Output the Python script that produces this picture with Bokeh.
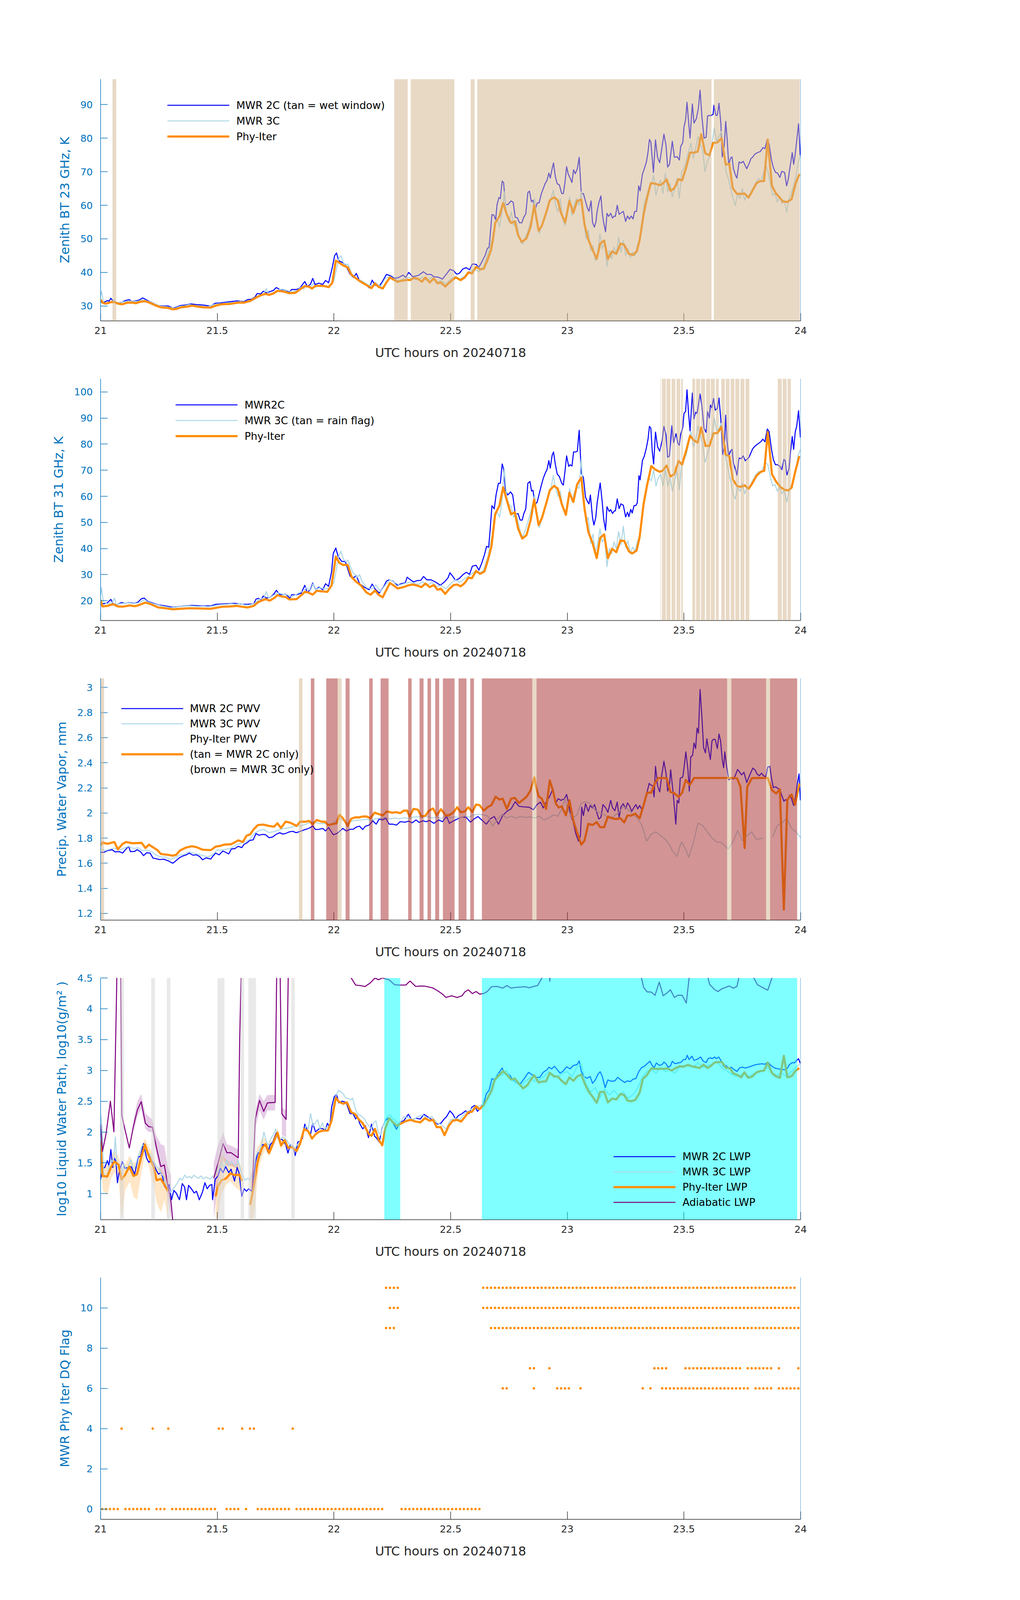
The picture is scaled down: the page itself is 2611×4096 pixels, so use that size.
import math
from bokeh.plotting import figure
from bokeh.models import Range1d, FixedTicker, BoxAnnotation, Span, Legend, LegendItem, Spacer
from bokeh.layouts import column
from bokeh.embed import file_html
from bokeh.resources import INLINE

NAN = float("nan")

X_TICKS = [21, 21.5, 22, 22.5, 23, 23.5, 24]
X_TICK_LABELS = ["21", "21.5", "22", "22.5", "23", "23.5", "24"]

# ---------------- Panel 1 : 23 GHz BT ----------------
BT23_2C = [(21.000,31.1),(21.015,31.1),(21.029,31.6),(21.036,31.4),(21.044,32.3),(21.054,31.4),(21.074,30.9),(21.095,31.2),(21.105,31.6),(21.123,31.9),(21.134,31.3),(21.151,31.5),(21.166,31.8),(21.180,32.4),(21.192,32.0),(21.207,31.4),(21.227,30.8),(21.248,30.1),(21.268,30.0),(21.289,30.0),(21.309,29.4),(21.324,29.6),(21.340,30.1),(21.365,30.3),(21.386,30.6),(21.411,30.4),(21.437,30.3),(21.457,30.1),(21.472,30.0),(21.491,30.8),(21.513,30.9),(21.534,31.1),(21.559,31.3),(21.584,31.5),(21.600,31.4),(21.615,31.3),(21.630,31.9),(21.646,32.0),(21.661,32.6),(21.671,33.7),(21.687,33.6),(21.697,34.4),(21.712,33.9),(21.727,34.3),(21.740,34.6),(21.753,35.5),(21.768,34.9),(21.789,34.8),(21.809,34.2),(21.819,34.9),(21.840,34.9),(21.855,35.4),(21.875,37.3),(21.885,35.9),(21.899,36.4),(21.909,38.2),(21.919,36.4),(21.936,36.8),(21.952,36.4),(21.964,37.6),(21.977,36.9),(21.993,41.5),(22.003,45.0),(22.011,45.8),(22.020,43.5),(22.036,43.0),(22.049,42.3),(22.069,39.5),(22.084,38.5),(22.096,39.7),(22.110,37.4),(22.130,36.9),(22.151,35.4),(22.164,37.7),(22.176,36.2),(22.194,35.9),(22.207,37.2),(22.225,39.4),(22.242,39.0),(22.260,38.2),(22.278,38.5),(22.296,39.2),(22.308,38.5),(22.320,40.0),(22.338,38.7),(22.362,39.1),(22.384,40.2),(22.398,39.4),(22.416,39.4),(22.428,38.7),(22.447,38.6),(22.465,38.0),(22.483,39.6),(22.497,40.9),(22.513,40.5),(22.525,39.5),(22.537,39.7),(22.552,41.0),(22.567,41.4),(22.581,40.8),(22.593,42.5),(22.609,42.4),(22.621,41.5),(22.635,43.3),(22.648,45.1),(22.657,47.1),(22.665,47.5),(22.677,57.2),(22.685,57.1),(22.693,55.7),(22.699,60.2),(22.707,62.3),(22.713,62.0),(22.721,67.2),(22.727,66.8),(22.735,60.2),(22.745,60.2),(22.759,61.3),(22.768,60.9),(22.777,56.4),(22.786,56.3),(22.795,54.8),(22.805,54.8),(22.813,56.4),(22.822,57.4),(22.831,63.8),(22.838,64.2),(22.846,61.1),(22.853,61.5),(22.861,58.3),(22.871,60.7),(22.879,60.7),(22.889,63.5),(22.897,65.0),(22.906,66.6),(22.913,67.4),(22.921,69.6),(22.927,68.1),(22.935,70.9),(22.941,72.6),(22.949,68.4),(22.957,66.4),(22.966,66.1),(22.976,63.5),(22.983,63.5),(22.990,66.8),(22.997,71.5),(23.004,69.3),(23.012,68.1),(23.020,66.8),(23.027,70.6),(23.034,69.4),(23.043,70.9),(23.051,74.3),(23.060,63.5),(23.069,63.5),(23.078,61.2),(23.086,59.2),(23.093,58.2),(23.102,61.3),(23.108,54.9),(23.116,53.5),(23.123,55.2),(23.128,58.3),(23.135,60.7),(23.144,62.8),(23.150,57.7),(23.156,54.7),(23.164,52.1),(23.170,57.6),(23.177,56.7),(23.186,57.6),(23.194,56.2),(23.201,56.8),(23.206,56.7),(23.214,60.0),(23.222,57.3),(23.230,57.7),(23.240,58.2),(23.250,55.2),(23.258,56.8),(23.266,55.9),(23.274,56.8),(23.282,55.9),(23.288,58.1),(23.297,58.2),(23.306,65.8),(23.312,64.3),(23.322,69.3),(23.330,70.9),(23.339,72.9),(23.346,75.9),(23.352,79.6),(23.358,78.9),(23.369,69.8),(23.378,79.5),(23.387,74.2),(23.396,72.7),(23.406,77.4),(23.414,81.2),(23.423,77.9),(23.430,71.4),(23.438,72.2),(23.450,79.1),(23.459,74.3),(23.471,74.5),(23.480,73.5),(23.486,77.5),(23.495,78.7),(23.500,83.3),(23.507,85.5),(23.513,90.7),(23.519,85.5),(23.526,80.0),(23.536,90.2),(23.543,84.5),(23.553,85.8),(23.562,89.0),(23.569,94.3),(23.577,86.3),(23.586,80.0),(23.595,80.3),(23.601,86.6),(23.609,86.8),(23.615,86.7),(23.625,87.1),(23.628,89.8),(23.637,86.8),(23.643,86.8),(23.650,90.4),(23.658,84.5),(23.664,74.4),(23.673,78.0),(23.679,85.0),(23.685,79.7),(23.692,71.9),(23.699,74.0),(23.706,74.4),(23.712,70.9),(23.721,68.9),(23.727,68.1),(23.736,72.9),(23.745,72.6),(23.754,73.1),(23.762,71.9),(23.769,70.9),(23.779,72.4),(23.787,73.9),(23.795,74.4),(23.803,75.2),(23.815,75.7),(23.827,76.0),(23.839,77.2),(23.847,76.9),(23.857,79.7),(23.865,78.2),(23.875,73.5),(23.883,71.3),(23.892,69.8),(23.901,69.6),(23.911,68.3),(23.919,70.1),(23.931,69.8),(23.940,65.8),(23.947,67.8),(23.955,71.6),(23.964,75.7),(23.970,72.2),(23.976,74.9),(23.983,79.2),(23.991,84.3),(23.999,74.4)]

BT23_3C = [(21.000,33.0),(21.004,34.4),(21.012,31.0),(21.02,30.7),(21.04,31.0),(21.06,31.9),(21.066,30.6),(21.08,31.1),(21.10,31.2),(21.12,31.5),(21.14,31.3),(21.16,31.4),(21.18,31.9),(21.20,31.5),(21.22,31.0),(21.24,30.4),(21.26,29.9),(21.28,29.8),(21.30,29.5),(21.32,29.3),(21.34,29.9),(21.36,30.0),(21.38,30.4),(21.40,30.2),(21.42,30.0),(21.44,29.9),(21.46,29.8),(21.48,30.3),(21.50,30.6),(21.52,30.7),(21.54,30.9),(21.56,31.0),(21.58,31.2),(21.60,31.3),(21.62,31.1),(21.64,31.3),(21.66,32.0),(21.68,33.0),(21.70,33.6),(21.71,35.2),(21.72,33.5),(21.74,34.0),(21.76,34.8),(21.78,35.0),(21.80,34.6),(21.82,34.2),(21.84,34.5),(21.86,35.6),(21.87,35.0),(21.88,36.0),(21.90,35.5),(21.91,36.7),(21.92,35.6),(21.94,36.2),(21.96,35.8),(21.98,35.8),(22.00,37.5),(22.02,44.0),(22.03,45.0),(22.04,43.0),(22.05,42.0),(22.06,42.5),(22.08,39.0),(22.10,38.0),(22.12,37.5),(22.14,36.5),(22.16,36.0),(22.18,36.8),(22.20,35.8),(22.22,38.2),(22.24,38.8),(22.26,38.0),(22.28,37.5),(22.30,38.2),(22.32,38.5),(22.34,38.0),(22.36,37.8),(22.38,38.6),(22.40,37.5),(22.42,38.6),(22.44,37.2),(22.46,37.5),(22.48,36.5),(22.50,38.0),(22.52,38.8),(22.54,38.0),(22.56,39.0),(22.58,40.2),(22.60,41.0),(22.62,40.2),(22.64,41.5),(22.66,45.5),(22.68,50.5),(22.69,55.0),(22.70,56.0),(22.71,53.5),(22.72,58.0),(22.73,64.0),(22.74,57.0),(22.75,55.0),(22.76,58.0),(22.77,54.0),(22.78,55.5),(22.79,52.0),(22.80,49.0),(22.81,48.5),(22.82,50.5),(22.83,52.0),(22.84,54.5),(22.85,57.0),(22.86,62.0),(22.87,55.0),(22.88,51.5),(22.89,54.0),(22.90,56.0),(22.91,57.5),(22.92,60.5),(22.93,62.0),(22.94,64.5),(22.95,60.0),(22.96,58.0),(22.97,62.0),(22.98,56.0),(22.99,54.0),(23.00,58.0),(23.01,62.5),(23.02,57.0),(23.03,60.5),(23.04,62.0),(23.05,60.0),(23.06,64.0),(23.07,56.0),(23.08,50.0),(23.09,52.5),(23.10,46.5),(23.11,48.0),(23.12,43.5),(23.13,46.0),(23.14,51.5),(23.15,47.0),(23.16,49.0),(23.17,41.8),(23.18,46.5),(23.19,44.0),(23.20,47.5),(23.21,45.5),(23.22,50.5),(23.23,46.0),(23.24,49.5),(23.25,45.0),(23.26,47.0),(23.27,44.5),(23.28,46.0),(23.29,45.0),(23.30,48.0),(23.31,50.0),(23.32,55.0),(23.33,61.0),(23.34,62.5),(23.35,65.5),(23.36,66.0),(23.37,69.0),(23.38,63.0),(23.39,66.0),(23.40,67.5),(23.41,63.5),(23.42,69.5),(23.43,64.0),(23.44,66.5),(23.45,62.5),(23.46,65.0),(23.47,68.0),(23.48,62.0),(23.49,70.0),(23.50,71.0),(23.51,73.5),(23.52,76.0),(23.53,78.5),(23.54,74.0),(23.55,77.0),(23.56,80.5),(23.57,78.0),(23.58,76.5),(23.59,70.0),(23.60,73.0),(23.61,74.5),(23.62,78.5),(23.63,83.0),(23.64,79.0),(23.65,80.5),(23.66,82.0),(23.67,76.5),(23.68,70.0),(23.69,68.0),(23.70,65.0),(23.71,62.0),(23.72,60.0),(23.73,63.5),(23.74,62.0),(23.75,65.0),(23.76,61.5),(23.77,63.0),(23.78,62.5),(23.79,64.5),(23.80,65.5),(23.81,67.0),(23.82,68.0),(23.83,67.0),(23.84,69.5),(23.85,72.0),(23.86,70.0),(23.87,66.5),(23.88,63.0),(23.89,63.5),(23.90,61.0),(23.91,62.5),(23.92,60.5),(23.93,61.5),(23.94,58.0),(23.95,62.0),(23.96,63.5),(23.97,66.0),(23.98,68.5),(23.99,73.0),(24.00,75.0)]

BT23_PI = [(21.000,31.9),(21.010,30.9),(21.023,30.7),(21.049,31.2),(21.062,31.1),(21.074,30.7),(21.093,30.5),(21.115,31.0),(21.136,31.0),(21.151,30.8),(21.171,31.3),(21.192,31.4),(21.212,30.9),(21.238,30.1),(21.258,29.6),(21.289,29.4),(21.309,29.0),(21.324,29.1),(21.345,29.6),(21.370,29.8),(21.393,30.1),(21.416,29.8),(21.442,29.6),(21.472,29.5),(21.493,30.1),(21.518,30.5),(21.554,30.6),(21.590,31.0),(21.615,31.0),(21.641,31.5),(21.666,32.5),(21.687,33.2),(21.707,33.6),(21.722,33.3),(21.740,33.7),(21.758,34.5),(21.784,34.3),(21.809,33.8),(21.834,33.9),(21.860,35.2),(21.875,35.9),(21.891,35.8),(21.906,35.2),(21.921,36.0),(21.947,36.0),(21.962,35.9),(21.977,35.6),(21.993,36.9),(22.008,43.5),(22.023,42.9),(22.039,42.1),(22.059,41.5),(22.074,39.4),(22.095,38.2),(22.115,37.2),(22.135,36.4),(22.161,35.3),(22.176,36.7),(22.191,35.7),(22.209,35.2),(22.225,37.0),(22.240,38.5),(22.272,37.2),(22.290,37.5),(22.314,37.8),(22.326,37.7),(22.344,38.4),(22.362,38.0),(22.377,37.2),(22.392,38.5),(22.410,37.0),(22.428,38.2),(22.444,36.7),(22.458,37.0),(22.477,35.8),(22.492,36.8),(22.507,37.7),(22.522,38.5),(22.543,37.7),(22.561,38.5),(22.576,40.0),(22.591,39.7),(22.609,41.6),(22.627,40.9),(22.642,41.1),(22.657,43.5),(22.673,46.6),(22.681,49.6),(22.691,54.7),(22.709,56.7),(22.725,60.7),(22.741,57.2),(22.759,54.7),(22.775,55.2),(22.789,51.1),(22.805,49.1),(22.825,50.1),(22.843,53.6),(22.858,60.0),(22.877,52.4),(22.891,53.9),(22.909,57.7),(22.925,61.5),(22.943,62.4),(22.959,61.5),(22.973,57.7),(22.991,54.9),(23.009,61.3),(23.026,57.7),(23.042,61.3),(23.060,61.7),(23.074,54.2),(23.090,49.8),(23.108,46.8),(23.126,44.0),(23.141,48.6),(23.158,49.5),(23.174,44.0),(23.192,46.3),(23.210,45.5),(23.228,48.6),(23.244,48.2),(23.264,45.5),(23.282,45.2),(23.298,46.3),(23.310,49.6),(23.327,57.2),(23.342,62.3),(23.358,66.6),(23.378,66.4),(23.396,66.0),(23.408,66.4),(23.426,67.7),(23.442,64.3),(23.459,65.1),(23.477,67.8),(23.492,67.4),(23.510,71.4),(23.526,75.7),(23.543,75.7),(23.559,76.0),(23.574,81.2),(23.591,75.5),(23.609,74.9),(23.625,78.6),(23.643,78.7),(23.661,80.0),(23.679,72.1),(23.694,72.4),(23.709,65.1),(23.727,63.4),(23.745,63.4),(23.760,63.5),(23.777,62.3),(23.793,64.3),(23.811,66.6),(23.827,67.2),(23.843,67.2),(23.859,79.6),(23.877,65.8),(23.893,63.7),(23.910,62.3),(23.925,61.1),(23.943,61.0),(23.961,61.8),(23.979,66.6),(23.995,69.3)]

WET_WINDOW = [(21.051,21.067),(22.258,22.316),(22.329,22.516),(22.586,22.603),(22.614,23.618),(23.628,23.996)]

# ---------------- Panel 2 : 31 GHz BT ----------------
BT31_2C = [(21.000,19.0),(21.013,18.8),(21.029,19.2),(21.044,20.5),(21.054,18.8),(21.069,18.5),(21.090,19.3),(21.105,19.0),(21.120,19.3),(21.146,19.0),(21.161,19.5),(21.174,20.7),(21.187,21.0),(21.202,19.7),(21.227,19.0),(21.248,18.4),(21.278,18.0),(21.309,17.5),(21.350,17.9),(21.391,18.2),(21.432,18.0),(21.472,18.0),(21.493,18.6),(21.534,18.8),(21.574,19.0),(21.605,18.7),(21.625,18.6),(21.656,18.8),(21.666,20.6),(21.677,20.9),(21.687,20.3),(21.697,21.8),(21.712,21.0),(21.727,21.3),(21.743,22.6),(21.753,24.0),(21.768,22.3),(21.793,22.5),(21.811,21.0),(21.819,22.3),(21.840,22.3),(21.860,22.9),(21.875,25.9),(21.885,23.2),(21.899,24.2),(21.909,26.8),(21.921,24.2),(21.936,25.2),(21.952,24.2),(21.964,26.5),(21.977,25.5),(21.990,31.1),(21.997,38.1),(22.008,40.2),(22.018,36.9),(22.033,35.1),(22.049,35.0),(22.069,29.4),(22.084,28.8),(22.096,29.6),(22.110,26.5),(22.130,25.2),(22.151,24.2),(22.164,26.4),(22.176,24.5),(22.194,22.9),(22.212,25.2),(22.225,27.5),(22.237,28.0),(22.253,27.5),(22.272,25.9),(22.290,26.6),(22.305,26.8),(22.314,29.0),(22.326,28.1),(22.341,27.2),(22.356,27.7),(22.372,27.8),(22.384,29.3),(22.398,28.0),(22.416,28.0),(22.434,27.2),(22.456,25.9),(22.477,27.5),(22.489,28.8),(22.497,30.7),(22.507,29.6),(22.521,27.8),(22.537,28.5),(22.552,29.9),(22.567,30.9),(22.581,30.1),(22.593,33.2),(22.609,33.6),(22.621,31.7),(22.633,34.3),(22.645,37.6),(22.654,40.8),(22.663,40.5),(22.669,46.7),(22.677,56.4),(22.687,55.2),(22.695,60.7),(22.705,65.0),(22.713,65.0),(22.721,72.4),(22.727,70.5),(22.735,62.3),(22.745,60.5),(22.757,61.7),(22.766,60.5),(22.777,53.2),(22.789,53.4),(22.798,50.9),(22.807,50.9),(22.813,53.2),(22.822,55.2),(22.831,65.0),(22.840,65.7),(22.847,62.0),(22.853,62.3),(22.861,56.8),(22.871,57.8),(22.879,60.7),(22.889,64.3),(22.897,66.9),(22.906,69.0),(22.913,70.2),(22.921,73.7),(22.927,70.8),(22.935,75.7),(22.941,77.0),(22.949,72.1),(22.957,68.5),(22.966,67.6),(22.976,65.0),(22.983,64.3),(22.990,69.5),(22.997,75.5),(23.006,71.5),(23.012,72.1),(23.020,71.6),(23.027,77.0),(23.036,77.0),(23.043,77.3),(23.051,85.3),(23.060,68.9),(23.069,67.2),(23.078,59.7),(23.086,58.1),(23.093,57.1),(23.099,60.5),(23.108,51.9),(23.114,49.0),(23.122,51.9),(23.128,57.5),(23.135,61.7),(23.141,65.1),(23.150,57.5),(23.156,51.2),(23.164,47.0),(23.170,56.0),(23.180,54.2),(23.186,54.9),(23.194,53.4),(23.201,54.4),(23.206,54.4),(23.214,59.0),(23.222,55.3),(23.230,57.1),(23.240,56.6),(23.250,52.1),(23.258,53.9),(23.264,52.2),(23.272,55.0),(23.278,53.6),(23.286,56.4),(23.294,56.5),(23.300,57.5),(23.307,67.9),(23.312,66.3),(23.322,73.7),(23.330,75.4),(23.339,78.6),(23.346,81.9),(23.352,86.8),(23.358,86.1),(23.364,77.3),(23.370,72.4),(23.378,84.6),(23.387,79.0),(23.396,77.3),(23.406,81.2),(23.414,86.8),(23.423,83.5),(23.430,75.0),(23.438,75.4),(23.448,87.1),(23.456,80.6),(23.466,84.0),(23.474,80.3),(23.480,79.6),(23.486,83.8),(23.495,86.4),(23.500,91.7),(23.507,92.6),(23.513,100.8),(23.519,92.6),(23.526,85.1),(23.536,99.6),(23.543,89.7),(23.550,92.2),(23.556,91.8),(23.562,95.0),(23.569,99.2),(23.577,94.3),(23.586,86.1),(23.595,84.5),(23.601,92.4),(23.609,90.0),(23.613,95.0),(23.619,93.9),(23.627,97.5),(23.634,93.0),(23.643,93.7),(23.650,97.7),(23.658,89.4),(23.666,76.0),(23.673,79.0),(23.679,91.1),(23.685,80.6),(23.692,75.4),(23.699,77.3),(23.706,78.0),(23.712,72.8),(23.721,70.2),(23.727,68.1),(23.736,74.7),(23.745,74.4),(23.754,75.5),(23.763,73.6),(23.769,74.1),(23.779,75.0),(23.787,76.7),(23.795,78.3),(23.805,79.3),(23.817,80.1),(23.829,80.9),(23.838,81.9),(23.847,80.9),(23.857,85.8),(23.865,84.8),(23.875,78.0),(23.883,74.1),(23.892,72.1),(23.901,72.1),(23.911,71.5),(23.919,70.2),(23.928,74.1),(23.934,73.7),(23.941,68.2),(23.950,70.5),(23.957,77.3),(23.964,82.9),(23.970,78.0),(23.977,84.8),(23.983,86.8),(23.991,92.8),(23.999,82.5)]

BT31_3C = [(21.000,22.0),(21.004,25.0),(21.012,19.5),(21.03,18.8),(21.05,19.3),(21.06,21.0),(21.066,18.5),(21.08,18.8),(21.10,19.0),(21.12,19.2),(21.14,18.9),(21.16,19.1),(21.18,20.0),(21.19,20.4),(21.20,19.6),(21.22,19.0),(21.24,18.5),(21.26,18.0),(21.28,17.7),(21.30,17.3),(21.32,17.5),(21.34,17.8),(21.36,17.9),(21.38,18.0),(21.40,17.9),(21.42,17.8),(21.44,17.9),(21.46,17.7),(21.48,17.9),(21.50,18.3),(21.52,18.5),(21.54,18.6),(21.56,18.8),(21.58,18.6),(21.60,18.9),(21.62,18.3),(21.64,18.4),(21.66,19.0),(21.68,20.5),(21.70,21.0),(21.71,23.5),(21.72,21.0),(21.74,22.0),(21.76,23.0),(21.78,22.5),(21.80,22.3),(21.82,21.5),(21.84,22.5),(21.86,23.5),(21.87,23.0),(21.88,25.0),(21.90,24.0),(21.91,26.5),(21.92,24.2),(21.94,25.0),(21.96,24.5),(21.98,24.8),(22.00,27.0),(22.02,37.0),(22.03,39.0),(22.04,36.0),(22.05,35.0),(22.06,35.5),(22.08,31.0),(22.10,29.0),(22.11,30.0),(22.12,27.5),(22.14,25.0),(22.16,24.5),(22.18,26.0),(22.20,23.5),(22.22,26.0),(22.24,28.0),(22.26,27.0),(22.28,26.0),(22.30,26.5),(22.32,27.0),(22.34,26.8),(22.36,26.2),(22.38,27.2),(22.40,26.0),(22.42,27.0),(22.44,25.5),(22.46,25.8),(22.48,24.5),(22.50,26.5),(22.52,28.0),(22.54,27.0),(22.56,28.5),(22.58,29.5),(22.60,31.0),(22.62,30.5),(22.64,31.5),(22.66,37.0),(22.68,46.0),(22.69,52.0),(22.70,54.0),(22.71,52.0),(22.72,58.0),(22.73,70.5),(22.74,60.0),(22.75,57.0),(22.76,56.0),(22.77,52.0),(22.78,53.5),(22.79,50.0),(22.80,46.0),(22.81,44.5),(22.82,47.0),(22.83,50.0),(22.84,53.0),(22.85,56.5),(22.86,60.5),(22.87,52.0),(22.88,48.0),(22.89,51.0),(22.90,53.5),(22.91,57.5),(22.92,61.0),(22.93,63.0),(22.94,68.0),(22.95,63.0),(22.96,60.0),(22.97,62.0),(22.98,56.0),(22.99,53.0),(23.00,57.5),(23.01,63.0),(23.02,58.0),(23.03,61.5),(23.04,64.0),(23.05,63.0),(23.06,74.5),(23.07,58.0),(23.08,50.0),(23.09,52.0),(23.10,42.0),(23.11,45.5),(23.12,38.5),(23.13,42.0),(23.14,47.5),(23.15,42.5),(23.16,44.0),(23.17,33.0),(23.18,40.0),(23.19,38.0),(23.20,42.5),(23.21,40.0),(23.22,46.5),(23.23,41.5),(23.24,48.5),(23.25,40.5),(23.26,43.0),(23.27,38.0),(23.28,40.5),(23.29,39.0),(23.30,42.5),(23.31,45.0),(23.32,52.0),(23.33,60.0),(23.34,63.0),(23.35,67.0),(23.36,66.0),(23.37,70.0),(23.38,64.0),(23.39,67.0),(23.40,68.5),(23.41,64.0),(23.42,70.5),(23.43,64.0),(23.44,67.0),(23.45,62.0),(23.46,66.0),(23.47,69.5),(23.48,62.5),(23.49,72.0),(23.50,74.0),(23.51,76.0),(23.52,80.0),(23.53,85.0),(23.54,79.0),(23.55,82.0),(23.56,87.0),(23.57,83.0),(23.58,80.0),(23.59,73.0),(23.60,76.0),(23.61,79.0),(23.62,84.0),(23.63,90.0),(23.64,85.0),(23.65,86.0),(23.66,88.0),(23.67,81.0),(23.68,74.0),(23.69,70.0),(23.70,66.0),(23.71,61.0),(23.72,59.0),(23.73,63.5),(23.74,62.0),(23.75,65.0),(23.76,61.0),(23.77,63.5),(23.78,63.0),(23.79,65.5),(23.80,67.0),(23.81,68.5),(23.82,69.5),(23.83,69.0),(23.84,71.0),(23.85,73.0),(23.86,72.0),(23.87,67.5),(23.88,64.0),(23.89,64.5),(23.90,62.0),(23.91,63.5),(23.92,61.0),(23.93,62.5),(23.94,57.8),(23.95,62.0),(23.96,64.0),(23.97,67.0),(23.98,70.5),(23.99,76.0),(24.00,78.0)]

BT31_PI = [(21.000,20.3),(21.008,17.8),(21.029,18.0),(21.054,18.7),(21.074,17.8),(21.095,17.7),(21.125,18.2),(21.146,17.9),(21.161,18.2),(21.192,19.3),(21.217,18.6),(21.248,17.4),(21.278,17.1),(21.309,16.7),(21.340,16.9),(21.381,17.1),(21.432,17.0),(21.472,16.9),(21.503,17.4),(21.523,17.7),(21.554,17.8),(21.584,18.0),(21.605,17.7),(21.630,17.4),(21.656,18.0),(21.676,19.5),(21.707,20.6),(21.725,20.0),(21.743,21.0),(21.758,22.1),(21.778,21.6),(21.793,21.4),(21.809,20.5),(21.840,20.6),(21.860,22.1),(21.875,23.4),(21.891,23.1),(21.909,22.3),(21.926,23.8),(21.947,23.6),(21.972,23.4),(21.990,25.9),(22.008,36.9),(22.023,34.5),(22.039,33.7),(22.059,33.7),(22.076,29.0),(22.095,27.3),(22.115,25.9),(22.140,23.1),(22.157,22.3),(22.176,23.9),(22.191,22.3),(22.209,21.3),(22.225,24.2),(22.240,26.8),(22.258,25.7),(22.273,24.7),(22.298,25.2),(22.319,25.9),(22.339,26.2),(22.360,25.7),(22.375,25.2),(22.392,26.6),(22.410,25.2),(22.428,26.0),(22.444,24.2),(22.458,24.6),(22.477,22.6),(22.495,24.6),(22.513,26.0),(22.528,26.2),(22.543,25.5),(22.561,26.8),(22.576,28.8),(22.591,28.6),(22.609,31.4),(22.627,30.3),(22.645,31.2),(22.660,35.6),(22.675,40.8),(22.691,53.2),(22.709,56.4),(22.725,63.5),(22.741,58.4),(22.759,53.1),(22.775,53.9),(22.789,47.7),(22.807,43.8),(22.825,45.1),(22.843,50.9),(22.858,58.8),(22.877,49.0),(22.891,51.6),(22.909,57.1),(22.925,62.3),(22.943,64.0),(22.959,63.0),(22.976,57.1),(22.994,52.9),(23.009,61.4),(23.026,57.8),(23.042,64.6),(23.060,67.2),(23.074,55.2),(23.090,46.4),(23.108,42.2),(23.126,36.3),(23.141,44.1),(23.158,45.4),(23.174,36.3),(23.192,39.9),(23.210,38.6),(23.228,43.1),(23.244,42.9),(23.264,38.9),(23.278,38.1),(23.297,39.2),(23.310,44.4),(23.327,57.1),(23.342,64.3),(23.360,71.6),(23.378,70.2),(23.396,69.4),(23.408,69.8),(23.426,71.8),(23.442,67.6),(23.459,68.5),(23.477,73.6),(23.492,72.1),(23.510,77.7),(23.526,83.2),(23.543,81.4),(23.559,80.6),(23.574,86.4),(23.592,79.3),(23.609,79.3),(23.627,84.2),(23.643,84.2),(23.661,86.6),(23.679,76.0),(23.694,75.4),(23.709,66.6),(23.727,64.0),(23.745,63.6),(23.760,64.2),(23.777,62.9),(23.793,65.0),(23.811,67.9),(23.829,69.4),(23.844,69.8),(23.859,84.6),(23.877,68.5),(23.895,65.6),(23.913,63.6),(23.931,62.5),(23.947,62.3),(23.961,63.3),(23.977,69.5),(23.994,75.4)]

RAIN_FLAG = [(23.398,23.400),(23.405,23.422),(23.425,23.442),(23.447,23.463),(23.468,23.484),(23.488,23.495),(23.536,23.548),(23.552,23.569),(23.573,23.590),(23.595,23.612),(23.615,23.632),(23.637,23.649),(23.660,23.675),(23.679,23.695),(23.700,23.716),(23.720,23.737),(23.742,23.759),(23.764,23.780),(23.902,23.919),(23.923,23.940),(23.944,23.958)]

# ---------------- Panel 3 : PWV ----------------
PWV_2C = [(21.000,1.687),(21.015,1.687),(21.029,1.700),(21.049,1.708),(21.062,1.690),(21.080,1.692),(21.095,1.681),(21.105,1.705),(21.120,1.735),(21.128,1.692),(21.146,1.694),(21.156,1.708),(21.171,1.692),(21.184,1.660),(21.197,1.683),(21.212,1.681),(21.225,1.640),(21.238,1.636),(21.253,1.629),(21.270,1.632),(21.289,1.620),(21.309,1.600),(21.319,1.613),(21.335,1.640),(21.350,1.656),(21.368,1.667),(21.380,1.681),(21.396,1.664),(21.411,1.667),(21.424,1.654),(21.437,1.627),(21.452,1.643),(21.472,1.633),(21.481,1.656),(21.493,1.681),(21.508,1.667),(21.524,1.697),(21.536,1.687),(21.549,1.674),(21.561,1.715),(21.574,1.715),(21.590,1.735),(21.605,1.724),(21.615,1.751),(21.627,1.762),(21.640,1.782),(21.654,1.786),(21.666,1.837),(21.678,1.823),(21.695,1.830),(21.707,1.827),(21.722,1.803),(21.737,1.809),(21.752,1.830),(21.768,1.843),(21.780,1.832),(21.793,1.837),(21.809,1.850),(21.824,1.854),(21.838,1.843),(21.850,1.850),(21.870,1.864),(21.885,1.873),(21.899,1.884),(21.909,1.897),(21.921,1.868),(21.936,1.870),(21.952,1.877),(21.964,1.857),(21.977,1.884),(21.997,1.827),(22.013,1.837),(22.028,1.860),(22.038,1.877),(22.053,1.857),(22.069,1.870),(22.082,1.870),(22.095,1.887),(22.110,1.895),(22.123,1.868),(22.135,1.895),(22.151,1.904),(22.166,1.938),(22.181,1.911),(22.194,1.952),(22.207,1.945),(22.222,1.958),(22.237,1.911),(22.253,1.911),(22.268,1.904),(22.284,1.931),(22.305,1.927),(22.320,1.935),(22.335,1.922),(22.352,1.945),(22.365,1.925),(22.381,1.938),(22.396,1.931),(22.410,1.941),(22.428,1.918),(22.449,1.945),(22.465,1.931),(22.483,1.972),(22.495,1.918),(22.513,1.938),(22.531,1.954),(22.549,1.968),(22.567,1.965),(22.585,1.927),(22.600,1.952),(22.617,1.972),(22.633,1.945),(22.653,1.911),(22.669,1.952),(22.687,1.972),(22.705,1.911),(22.723,1.979),(22.741,2.013),(22.759,2.033),(22.777,2.090),(22.793,2.053),(22.813,2.049),(22.837,2.046),(22.855,2.026),(22.870,2.067),(22.885,2.087),(22.897,2.040),(22.909,2.087),(22.925,2.134),(22.939,2.195),(22.949,2.074),(22.961,2.114),(22.973,2.101),(22.988,2.114),(22.997,2.148),(23.006,2.074),(23.014,1.979),(23.024,1.938),(23.036,1.837),(23.048,1.776),(23.056,1.816),(23.062,2.046),(23.069,1.979),(23.078,2.074),(23.090,2.013),(23.098,2.060),(23.108,2.040),(23.117,2.067),(23.126,2.006),(23.135,1.952),(23.144,1.965),(23.153,2.067),(23.165,2.040),(23.174,2.006),(23.186,2.101),(23.194,2.040),(23.204,2.019),(23.214,2.087),(23.222,1.965),(23.230,2.049),(23.240,2.074),(23.250,2.033),(23.258,2.080),(23.266,2.060),(23.276,2.013),(23.286,2.046),(23.294,2.067),(23.302,2.033),(23.310,2.060),(23.318,2.033),(23.327,2.060),(23.336,2.114),(23.342,2.168),(23.351,2.236),(23.358,2.223),(23.366,2.216),(23.372,2.128),(23.378,2.372),(23.387,2.216),(23.396,2.168),(23.405,2.304),(23.414,2.412),(23.423,2.317),(23.430,2.175),(23.438,2.223),(23.443,2.345),(23.454,2.155),(23.465,1.911),(23.471,2.101),(23.478,2.080),(23.484,2.277),(23.495,2.288),(23.501,2.372),(23.508,2.487),(23.517,2.345),(23.523,2.175),(23.529,2.446),(23.537,2.460),(23.543,2.558),(23.550,2.514),(23.556,2.676),(23.562,2.636),(23.569,2.984),(23.577,2.764),(23.584,2.521),(23.592,2.480),(23.598,2.591),(23.604,2.521),(23.613,2.426),(23.620,2.574),(23.627,2.588),(23.634,2.585),(23.643,2.514),(23.650,2.629),(23.657,2.575),(23.664,2.426),(23.670,2.361),(23.675,2.487),(23.682,2.385),(23.692,2.263),(23.703,2.277),(23.712,2.270),(23.721,2.304),(23.730,2.347),(23.739,2.324),(23.747,2.304),(23.757,2.324),(23.769,2.243),(23.779,2.290),(23.787,2.324),(23.795,2.358),(23.805,2.342),(23.813,2.311),(23.823,2.297),(23.833,2.317),(23.841,2.297),(23.851,2.290),(23.859,2.365),(23.868,2.372),(23.875,2.277),(23.883,2.202),(23.893,2.209),(23.901,2.198),(23.911,2.185),(23.919,2.141),(23.928,2.094),(23.935,2.107),(23.943,2.094),(23.952,2.141),(23.961,2.114),(23.970,2.060),(23.977,2.114),(23.985,2.223),(23.993,2.311),(23.999,2.101)]

PWV_3C = [(21.000,1.715),(21.02,1.700),(21.04,1.712),(21.06,1.720),(21.08,1.703),(21.10,1.720),(21.12,1.735),(21.14,1.718),(21.16,1.722),(21.18,1.700),(21.20,1.705),(21.22,1.690),(21.24,1.662),(21.26,1.650),(21.28,1.648),(21.30,1.630),(21.32,1.645),(21.34,1.665),(21.36,1.672),(21.38,1.690),(21.40,1.680),(21.42,1.672),(21.44,1.660),(21.46,1.650),(21.48,1.668),(21.50,1.705),(21.52,1.705),(21.54,1.712),(21.56,1.720),(21.58,1.745),(21.60,1.758),(21.62,1.770),(21.64,1.790),(21.66,1.840),(21.68,1.860),(21.70,1.870),(21.72,1.845),(21.74,1.850),(21.76,1.862),(21.78,1.875),(21.80,1.880),(21.82,1.888),(21.84,1.895),(21.86,1.900),(21.88,1.910),(21.90,1.928),(21.92,1.925),(21.94,1.915),(21.96,1.918),(21.98,1.905),(22.00,1.925),(22.02,1.960),(22.04,1.940),(22.06,1.922),(22.08,1.938),(22.10,1.942),(22.12,1.945),(22.14,1.950),(22.16,1.940),(22.18,1.955),(22.20,1.958),(22.22,1.965),(22.24,1.952),(22.26,1.960),(22.28,1.955),(22.30,1.962),(22.32,1.955),(22.34,1.968),(22.36,1.970),(22.38,1.962),(22.40,1.975),(22.42,1.960),(22.44,1.968),(22.46,1.955),(22.48,1.978),(22.50,1.962),(22.52,1.970),(22.54,1.960),(22.56,1.975),(22.58,1.968),(22.60,1.985),(22.62,1.990),(22.64,1.985),(22.66,1.975),(22.68,1.895),(22.70,1.950),(22.72,1.990),(22.74,1.960),(22.76,1.975),(22.78,1.960),(22.80,1.972),(22.82,1.965),(22.84,1.970),(22.86,1.960),(22.88,1.975),(22.90,1.945),(22.92,1.960),(22.94,1.985),(22.96,1.975),(22.98,2.050),(22.99,2.114),(23.00,2.040),(23.02,1.960),(23.04,1.980),(23.06,2.080),(23.08,2.090),(23.10,2.075),(23.12,2.020),(23.14,2.000),(23.16,1.985),(23.18,1.955),(23.20,1.975),(23.22,2.005),(23.24,2.050),(23.26,2.030),(23.28,1.990),(23.30,1.960),(23.32,1.900),(23.34,1.776),(23.36,1.830),(23.38,1.850),(23.40,1.820),(23.42,1.790),(23.44,1.740),(23.45,1.700),(23.47,1.654),(23.48,1.720),(23.49,1.770),(23.51,1.700),(23.52,1.647),(23.54,1.760),(23.56,1.920),(23.58,1.900),(23.60,1.850),(23.62,1.800),(23.64,1.770),(23.66,1.765),(23.68,1.730),(23.69,1.714),(23.71,1.770),(23.73,1.860),(23.75,1.780),(23.77,1.820),(23.79,1.850),(23.81,1.790),(23.84,1.800),None,(23.88,1.810),(23.90,1.900),(23.92,1.920),(23.94,1.960),(23.96,1.880),(23.98,1.850),(24.00,1.803)]

PWV_PI = [(21.000,1.742),(21.008,1.765),(21.029,1.755),(21.059,1.769),(21.074,1.711),(21.095,1.755),(21.110,1.769),(21.136,1.759),(21.176,1.762),(21.192,1.721),(21.207,1.748),(21.227,1.724),(21.243,1.705),(21.258,1.674),(21.289,1.667),(21.309,1.660),(21.324,1.667),(21.340,1.701),(21.365,1.724),(21.391,1.735),(21.411,1.728),(21.437,1.708),(21.472,1.704),(21.493,1.732),(21.513,1.738),(21.529,1.748),(21.559,1.751),(21.590,1.782),(21.610,1.769),(21.625,1.819),(21.641,1.830),(21.656,1.870),(21.674,1.904),(21.697,1.908),(21.722,1.897),(21.743,1.891),(21.758,1.918),(21.773,1.881),(21.793,1.931),(21.814,1.922),(21.840,1.897),(21.855,1.931),(21.880,1.931),(21.893,1.938),(21.909,1.911),(21.926,1.945),(21.947,1.931),(21.962,1.931),(21.974,1.904),(21.993,1.911),(22.011,1.918),(22.023,1.986),(22.039,1.958),(22.059,1.897),(22.074,1.954),(22.090,1.965),(22.107,1.965),(22.123,1.972),(22.140,1.972),(22.156,1.958),(22.174,2.003),(22.191,1.992),(22.209,1.981),(22.227,2.013),(22.248,2.003),(22.268,2.006),(22.284,1.999),(22.299,2.019),(22.314,2.019),(22.324,1.972),(22.341,2.033),(22.360,2.026),(22.375,1.972),(22.392,1.979),(22.408,2.019),(22.425,2.036),(22.440,1.981),(22.459,2.030),(22.480,1.979),(22.497,1.986),(22.513,2.006),(22.528,2.046),(22.543,2.006),(22.561,2.013),(22.576,2.046),(22.593,2.009),(22.609,2.067),(22.624,2.063),(22.642,2.019),(22.660,2.049),(22.675,2.063),(22.693,2.130),(22.709,2.107),(22.723,2.114),(22.741,2.033),(22.759,2.114),(22.775,2.121),(22.793,2.080),(22.807,2.101),(22.825,2.128),(22.841,2.175),(22.849,2.223),(22.859,2.283),(22.867,2.202),(22.877,2.134),(22.891,2.114),(22.909,2.033),(22.925,2.260),(22.939,2.175),(22.951,2.074),(22.963,2.044),(22.976,2.053),(22.994,1.981),(23.009,2.101),(23.026,1.938),(23.042,1.843),(23.060,1.748),(23.074,1.782),(23.090,1.914),(23.108,1.904),(23.126,1.927),(23.141,1.887),(23.158,1.887),(23.174,1.972),(23.192,1.958),(23.210,1.952),(23.228,1.958),(23.244,1.925),(23.258,1.981),(23.274,1.979),(23.291,1.995),(23.310,1.958),(23.327,2.063),(23.342,2.162),(23.360,2.162),(23.375,2.236),(23.390,2.279),(23.408,2.279),(23.426,2.277),(23.442,2.168),(23.459,2.157),(23.477,2.128),(23.492,2.162),(23.508,2.263),(23.525,2.223),(23.543,2.279),(23.685,2.279),(23.721,2.279),(23.727,2.277),(23.742,2.209),(23.760,1.721),(23.771,2.209),(23.791,2.277),(23.807,2.279),(23.859,2.279),(23.877,2.182),(23.895,2.155),(23.911,2.189),(23.928,1.231),(23.943,2.107),(23.961,2.148),(23.976,2.067),(23.995,2.236)]

PWV_2C_ONLY = [(21.000,21.015),(21.850,21.865),(22.016,22.033),(22.850,22.868),(23.685,23.703),(23.852,23.869)]
PWV_3C_ONLY = [(21.901,21.916),(21.967,22.016),(22.050,22.067),(22.151,22.166),(22.200,22.234),(22.318,22.333),(22.367,22.384),(22.401,22.416),(22.434,22.451),(22.467,22.517),(22.534,22.568),(22.584,22.600),(22.634,22.850),(22.868,23.685),(23.703,23.852),(23.869,23.985)]

# ---------------- Panel 4 : log10 LWP ----------------
LWP_2C = [(21.000,1.232),(21.008,1.411),(21.018,1.425),(21.029,1.535),(21.036,1.453),(21.044,1.715),(21.052,1.425),(21.059,1.577),(21.066,1.522),(21.072,1.177),(21.080,1.356),(21.093,1.522),(21.105,1.411),(21.117,1.425),(21.131,1.439),(21.146,1.315),(21.161,1.590),(21.171,1.610),(21.184,1.811),(21.197,1.577),(21.207,1.508),(21.217,1.549),(21.227,1.480),(21.240,1.370),(21.248,1.315),(21.258,1.342),(21.266,1.273),(21.273,1.122),(21.284,1.067),(21.294,1.149),(21.304,0.901),(21.314,1.053),(21.324,1.011),(21.338,0.901),(21.350,1.163),(21.360,1.108),(21.368,0.901),(21.377,1.135),(21.389,1.080),(21.401,1.011),(21.411,1.039),(21.423,0.901),(21.437,1.031),(21.447,1.177),(21.457,1.080),(21.467,1.135),(21.477,1.149),(21.480,0.901),(21.491,1.232),(21.503,1.287),(21.513,1.411),(21.525,1.342),(21.536,1.439),(21.549,1.342),(21.559,1.397),(21.574,1.204),(21.585,1.425),(21.593,1.342),(21.605,0.956),(21.615,1.080),(21.625,1.039),(21.635,1.080),(21.648,1.039),(21.656,1.273),(21.664,1.508),(21.674,1.673),(21.685,1.632),(21.695,1.797),(21.707,1.784),(21.717,1.673),(21.727,1.797),(21.738,1.839),(21.753,1.990),(21.763,1.880),(21.778,1.880),(21.793,1.797),(21.803,1.659),(21.813,1.797),(21.824,1.770),(21.834,1.618),(21.845,1.839),(21.855,1.852),(21.865,1.894),(21.875,2.128),(21.885,2.032),(21.899,1.949),(21.909,2.142),(21.921,2.004),(21.936,2.051),(21.950,2.059),(21.962,2.023),(21.972,2.142),(21.982,2.073),(21.990,2.404),(22.001,2.570),(22.011,2.611),(22.021,2.473),(22.035,2.501),(22.052,2.481),(22.069,2.299),(22.082,2.299),(22.093,2.211),(22.100,2.266),(22.110,2.142),(22.123,2.051),(22.135,2.101),(22.148,1.908),(22.161,2.128),(22.174,1.935),(22.184,1.894),(22.194,1.839),(22.207,2.073),(22.219,2.183),(22.232,2.225),(22.247,2.189),(22.268,2.046),(22.284,2.161),(22.299,2.183),(22.319,2.288),(22.335,2.189),(22.350,2.225),(22.370,2.211),(22.386,2.288),(22.410,2.225),(22.428,2.183),(22.444,2.128),(22.458,2.142),(22.471,2.205),(22.483,2.252),(22.497,2.343),(22.509,2.294),(22.521,2.211),(22.533,2.266),(22.549,2.299),(22.564,2.343),(22.579,2.299),(22.591,2.404),(22.603,2.432),(22.615,2.335),(22.627,2.390),(22.641,2.459),(22.653,2.619),(22.665,2.680),(22.677,2.867),(22.689,2.845),(22.699,2.923),(22.711,2.983),(22.721,3.038),(22.729,2.956),(22.741,2.934),(22.753,2.928),(22.765,2.851),(22.783,2.790),(22.801,2.790),(22.819,2.887),(22.834,2.969),(22.849,2.928),(22.867,2.887),(22.882,2.887),(22.897,2.969),(22.913,3.011),(22.921,3.052),(22.933,3.025),(22.945,3.066),(22.957,3.011),(22.969,2.956),(22.981,2.983),(22.997,3.058),(23.012,3.025),(23.026,3.080),(23.042,3.094),(23.051,3.154),(23.060,2.983),(23.072,2.901),(23.084,2.873),(23.098,2.901),(23.108,2.790),(23.120,2.845),(23.132,2.942),(23.141,2.978),(23.150,2.901),(23.162,2.721),(23.174,2.845),(23.189,2.823),(23.204,2.831),(23.216,2.887),(23.230,2.845),(23.246,2.804),(23.258,2.831),(23.270,2.818),(23.282,2.859),(23.294,2.867),(23.306,2.978),(23.318,3.044),(23.330,3.066),(23.342,3.107),(23.354,3.149),(23.364,3.080),(23.372,3.044),(23.382,3.121),(23.394,3.080),(23.406,3.094),(23.414,3.135),(23.423,3.107),(23.432,3.052),(23.442,3.071),(23.450,3.149),(23.462,3.107),(23.474,3.121),(23.486,3.127),(23.498,3.176),(23.507,3.176),(23.514,3.245),(23.522,3.176),(23.534,3.231),(23.543,3.162),(23.553,3.176),(23.562,3.190),(23.571,3.218),(23.583,3.149),(23.595,3.127),(23.603,3.190),(23.613,3.204),(23.622,3.190),(23.631,3.218),(23.639,3.190),(23.649,3.218),(23.658,3.162),(23.670,3.066),(23.679,3.080),(23.691,3.038),(23.703,3.052),(23.715,3.011),(23.727,2.983),(23.739,3.044),(23.751,3.052),(23.763,3.038),(23.775,3.052),(23.787,3.066),(23.803,3.088),(23.817,3.099),(23.835,3.107),(23.847,3.099),(23.859,3.135),(23.875,3.071),(23.889,3.038),(23.904,3.025),(23.919,3.016),(23.931,3.011),(23.943,3.033),(23.952,3.094),(23.964,3.127),(23.973,3.121),(23.983,3.162),(23.991,3.190),(23.999,3.107)]

LWP_3C = [(21.000,2.29),(21.006,2.10),(21.012,1.35),(21.025,1.25),(21.035,1.42),(21.045,1.55),(21.055,1.50),(21.063,1.92),(21.070,1.45),(21.080,1.38),(21.090,1.30),(21.100,1.48),(21.110,1.38),(21.120,1.45),(21.130,1.55),(21.140,1.40),(21.150,1.45),(21.160,1.60),(21.170,1.70),(21.180,1.80),(21.190,1.75),(21.200,1.62),(21.210,1.65),(21.220,1.55),(21.230,1.50),(21.240,1.45),(21.250,1.40),(21.260,1.32),(21.270,1.28),(21.280,1.15),(21.290,1.10),(21.300,1.02),(21.310,1.08),(21.320,1.12),(21.330,1.18),(21.340,1.25),(21.350,1.22),(21.360,1.30),(21.370,1.26),(21.380,1.28),(21.390,1.25),(21.400,1.30),(21.410,1.27),(21.420,1.25),(21.430,1.29),(21.440,1.24),(21.450,1.27),(21.460,1.25),(21.470,1.24),(21.480,1.28),(21.490,1.30),(21.500,1.38),(21.510,1.45),(21.520,1.50),(21.530,1.42),(21.540,1.55),(21.550,1.45),(21.560,1.52),(21.570,1.48),(21.580,1.45),(21.590,1.55),(21.600,1.35),(21.610,1.28),(21.620,1.22),(21.630,1.25),(21.640,1.22),(21.650,1.30),(21.660,1.55),(21.670,1.65),(21.680,1.70),(21.690,1.80),(21.700,2.00),(21.710,1.85),(21.720,1.78),(21.730,1.90),(21.740,1.95),(21.750,2.05),(21.760,1.92),(21.770,1.88),(21.780,1.92),(21.790,1.90),(21.800,1.85),(21.810,1.80),(21.820,1.78),(21.830,1.72),(21.840,1.78),(21.850,1.82),(21.860,1.90),(21.870,2.00),(21.880,2.10),(21.890,2.05),(21.900,2.30),(21.910,2.10),(21.920,2.15),(21.930,2.20),(21.940,2.05),(21.950,2.15),(21.960,2.05),(21.970,2.08),(21.980,2.05),(21.990,2.25),(22.000,2.50),(22.010,2.60),(22.020,2.68),(22.030,2.65),(22.040,2.62),(22.050,2.55),(22.060,2.55),(22.070,2.52),(22.080,2.55),(22.090,2.40),(22.100,2.30),(22.110,2.28),(22.120,2.25),(22.130,2.22),(22.140,2.15),(22.150,2.10),(22.160,2.05),(22.170,2.15),(22.180,2.18),(22.190,2.00),(22.200,1.95),(22.210,2.10),(22.220,2.20),(22.230,2.25),(22.240,2.28),(22.250,2.22),(22.260,2.20),(22.270,2.15),(22.280,2.12),(22.290,2.20),(22.300,2.25),(22.320,2.23),(22.340,2.20),(22.360,2.25),(22.380,2.28),(22.400,2.22),(22.420,2.25),(22.440,2.15),(22.460,2.12),(22.480,2.05),(22.500,2.20),(22.520,2.22),(22.540,2.20),(22.560,2.30),(22.580,2.35),(22.600,2.40),(22.620,2.42),(22.640,2.45),(22.66,2.55),(22.68,2.80),(22.70,2.95),(22.72,2.92),(22.74,3.00),(22.76,2.85),(22.78,2.80),(22.80,2.75),(22.82,2.82),(22.84,2.88),(22.86,2.82),(22.88,2.85),(22.90,2.90),(22.92,2.98),(22.94,2.93),(22.96,2.90),(22.98,2.95),(23.00,2.98),(23.02,2.90),(23.04,3.05),(23.06,3.10),(23.08,2.78),(23.10,2.65),(23.12,2.72),(23.14,2.55),(23.16,2.70),(23.18,2.60),(23.20,2.68),(23.22,2.58),(23.24,2.65),(23.26,2.55),(23.28,2.60),(23.30,2.70),(23.32,2.88),(23.34,2.98),(23.36,3.02),(23.38,2.95),(23.40,3.05),(23.42,2.98),(23.44,3.02),(23.46,2.95),(23.48,3.05),(23.50,3.08),(23.52,3.10),(23.54,3.05),(23.56,3.12),(23.58,3.05),(23.60,3.08),(23.62,3.10),(23.64,3.15),(23.66,3.05),(23.68,3.00),(23.70,2.95),(23.72,2.90),(23.74,2.92),(23.76,2.95),(23.78,2.90),(23.80,2.95),(23.82,2.98),(23.84,3.00),(23.86,3.05),(23.88,2.95),(23.90,2.92),(23.92,2.95),(23.94,2.90),(23.96,2.98),(23.98,3.05),(24.00,3.12)]

LWP_PI = [(21.000,1.852),(21.008,1.287),(21.029,1.279),(21.044,1.425),(21.059,1.522),(21.077,1.472),(21.090,1.232),(21.105,1.306),(21.123,1.439),(21.141,1.287),(21.156,1.315),(21.174,1.590),(21.190,1.797),(21.202,1.659),(21.217,1.522),(21.227,1.439),(21.240,1.218),(21.258,1.240),(21.273,1.149),(21.289,1.039),None,(21.493,0.956),(21.503,1.122),(21.518,1.218),(21.539,1.251),(21.556,1.328),(21.574,1.301),(21.595,1.306),(21.607,1.204),None,(21.641,0.818),(21.651,1.011),(21.661,1.218),(21.671,1.480),(21.681,1.632),(21.692,1.742),(21.707,1.803),(21.722,1.659),(21.740,1.825),(21.758,1.990),(21.773,1.784),(21.789,1.866),(21.804,1.742),(21.819,1.756),(21.840,1.693),(21.855,1.811),(21.872,2.046),(21.889,2.018),(21.906,1.894),(21.921,1.963),(21.936,2.004),(21.952,2.023),(21.974,2.023),(21.990,2.183),(22.008,2.556),(22.021,2.492),(22.039,2.459),(22.056,2.481),(22.074,2.321),(22.090,2.294),(22.105,2.211),(22.123,2.142),(22.138,2.051),(22.151,1.957),(22.161,1.941),(22.176,2.051),(22.191,1.880),(22.207,1.784),(22.220,2.059),(22.237,2.225),(22.253,2.156),(22.270,2.101),(22.289,2.142),(22.309,2.178),(22.329,2.197),(22.350,2.170),(22.370,2.156),(22.390,2.225),(22.410,2.183),(22.425,2.197),(22.440,2.079),(22.458,2.079),(22.474,1.949),(22.492,2.101),(22.509,2.183),(22.528,2.197),(22.545,2.170),(22.561,2.244),(22.576,2.321),(22.591,2.327),(22.609,2.418),(22.624,2.371),(22.641,2.432),(22.657,2.542),(22.675,2.666),(22.689,2.845),(22.709,2.928),(22.725,2.989),(22.741,2.928),(22.759,2.851),(22.775,2.867),(22.793,2.785),(22.811,2.707),(22.829,2.763),(22.843,2.845),(22.858,2.923),(22.877,2.804),(22.891,2.818),(22.909,2.823),(22.925,2.961),(22.943,2.901),(22.959,2.901),(22.976,2.831),(22.994,2.776),(23.009,2.887),(23.026,2.831),(23.042,2.901),(23.060,2.934),(23.074,2.790),(23.090,2.666),(23.108,2.575),(23.126,2.473),(23.141,2.652),(23.158,2.652),(23.174,2.481),(23.192,2.542),(23.210,2.528),(23.228,2.619),(23.244,2.597),(23.258,2.509),(23.274,2.501),(23.291,2.520),(23.310,2.638),(23.324,2.859),(23.342,2.928),(23.360,3.033),(23.378,3.025),(23.396,3.025),(23.414,3.025),(23.430,3.033),(23.447,2.997),(23.462,3.033),(23.480,3.066),(23.498,3.060),(23.517,3.088),(23.534,3.066),(23.553,3.052),(23.567,3.038),(23.583,3.094),(23.601,3.038),(23.613,3.066),(23.631,3.127),(23.649,3.135),(23.663,3.135),(23.679,3.044),(23.697,3.033),(23.712,2.950),(23.730,2.923),(23.745,2.887),(23.759,2.969),(23.775,2.879),(23.793,2.901),(23.811,2.969),(23.829,2.989),(23.843,2.997),(23.859,3.127),(23.877,2.956),(23.895,2.901),(23.911,2.879),(23.928,3.237),(23.943,2.887),(23.961,2.906),(23.977,2.989),(23.994,3.038)]

LWP_PI_BANDS = [
    ([21.000,21.010,21.030,21.045,21.060,21.078,21.090,21.105,21.125,21.141,21.157,21.175,21.190,21.203,21.218,21.228,21.240,21.258,21.274,21.289],
     [1.55,1.05,0.97,1.25,1.35,1.20,0.58,1.05,1.20,0.95,0.90,1.35,1.62,1.50,1.25,1.15,0.85,0.70,0.90,0.58],
     [2.00,1.45,1.47,1.62,1.70,1.60,1.40,1.48,1.62,1.50,1.52,1.75,1.90,1.78,1.70,1.60,1.45,1.40,1.30,1.25]),
    ([21.493,21.503,21.518,21.539,21.556,21.574,21.595,21.607],
     [0.58,0.62,1.00,1.15,1.20,1.12,1.05,1.00],
     [1.30,1.55,1.65,1.55,1.50,1.48,1.50,1.40]),
    ([21.641,21.651,21.661,21.671,21.681,21.692,21.707,21.722,21.740,21.758,21.773,21.789],
     [0.58,0.58,0.75,1.20,1.45,1.60,1.72,1.60,1.76,1.92,1.72,1.80],
     [1.35,1.35,1.55,1.75,1.80,1.90,1.90,1.74,1.90,2.06,1.86,1.94]),
]

LWP_ADIA = [(21.000,2.128),(21.008,1.687),(21.023,1.963),(21.042,2.500),(21.057,2.004),(21.066,3.783),(21.072,5.0),(21.085,5.0),(21.091,2.266),(21.105,2.032),(21.123,1.742),(21.141,2.101),(21.158,2.363),(21.174,2.492),(21.192,2.142),(21.207,2.087),(21.222,2.079),(21.238,1.770),(21.258,1.439),(21.273,1.466),(21.287,1.163),(21.302,0.860),(21.312,0.45),None,(21.485,1.25),(21.500,1.45),(21.525,1.811),(21.541,1.665),(21.559,1.665),(21.590,1.582),(21.596,3.5),(21.605,5.0),None,(21.650,1.10),(21.663,2.211),(21.681,2.514),(21.699,2.335),(21.715,2.473),(21.748,2.481),(21.756,5.0),(21.768,5.0),(21.777,2.294),(21.795,2.205),(21.800,3.5),(21.806,5.0),(22.000,5.0),(22.074,4.5),(22.093,4.384),(22.115,4.375),(22.133,4.36),(22.156,4.42),(22.176,4.50),(22.191,4.47),(22.207,4.50),(22.236,4.47),(22.260,4.39),(22.278,4.384),(22.308,4.384),(22.326,4.45),(22.350,4.362),(22.368,4.368),(22.386,4.368),(22.422,4.340),(22.444,4.293),(22.465,4.238),(22.480,4.183),(22.504,4.210),(22.528,4.183),(22.549,4.210),(22.561,4.274),(22.576,4.307),(22.593,4.246),(22.609,4.279),(22.624,4.238),(22.641,4.246),(22.657,4.279),(22.675,4.357),(22.699,4.362),(22.723,4.335),(22.741,4.376),(22.759,4.335),(22.783,4.348),(22.819,4.357),(22.837,4.340),(22.855,4.362),(22.873,4.376),(22.891,4.5),(22.905,4.8),(22.920,4.8),(22.925,4.445),(22.930,4.8),(23.000,5.0),(23.300,5.0),(23.318,4.5),(23.327,4.348),(23.342,4.274),(23.360,4.27),(23.376,4.219),(23.394,4.431),(23.411,4.210),(23.426,4.252),(23.442,4.307),(23.459,4.183),(23.474,4.219),(23.492,4.219),(23.510,4.092),(23.522,4.5),(23.530,5.0),(23.595,5.0),(23.603,4.5),(23.610,4.395),(23.631,4.312),(23.646,4.279),(23.661,4.321),(23.679,4.348),(23.694,4.368),(23.712,4.335),(23.727,4.362),(23.735,4.5),(23.745,5.0),(23.790,5.0),(23.799,4.5),(23.815,4.390),(23.835,4.348),(23.859,4.301),(23.877,4.5),(23.890,5.0),(24.000,5.0)]

LWP_ADIA_BANDS = [
    ([21.141,21.158,21.174,21.192,21.207,21.222,21.238,21.258,21.273,21.287,21.302],
     [2.00,2.25,2.38,2.05,2.00,2.00,1.65,1.30,1.25,0.95,0.58],
     [2.20,2.50,2.62,2.30,2.25,2.20,1.95,1.80,1.78,1.45,1.30]),
    ([21.485,21.500,21.525,21.541,21.559,21.590],
     [0.58,1.10,1.55,1.45,1.45,1.40],
     [1.50,1.75,2.00,1.80,1.78,1.72]),
    ([21.663,21.681,21.699,21.715,21.748],
     [2.05,2.35,2.20,2.35,2.35],
     [2.35,2.62,2.50,2.60,2.60]),
    ([21.777,21.795],[1.95,1.92],[2.40,2.35]),
]

LWP_GREY = [(21.083,21.100),(21.217,21.233),(21.284,21.299),(21.501,21.531),(21.600,21.615),(21.633,21.666),(21.817,21.832)]
LWP_CYAN = [(22.216,22.284),(22.634,23.985)]

# ---------------- Panel 5 : DQ flags (minute index after 21 UTC) ----------------
DQ_FLAGS = {
    0: [0,1,2,3,4,6,7,8,9,10,11,12,14,15,16] + list(range(18,30)) + [32,33,34,35,37] + list(range(40,49)) + list(range(50,73)) + list(range(77,98)),
    4: [5,13,17,30,31,36,38,39,49],
    6: [103,104,111,117,118,119,120,123,139,141] + list(range(144,167)) + [168,169,170,171,172] + list(range(174,180)),
    7: [110,111,115,142,143,144,145] + list(range(150,165)) + list(range(166,173)) + [174,179],
    9: [73,74,75] + list(range(100,180)),
    10: [74,75,76] + list(range(98,180)),
    11: [73,74,75,76] + list(range(98,179)),
}

# ---------------- styling ----------------
FONT = "DejaVu Sans"
AX_BLUE = "#0072BD"
DARK = "#262626"
C_2C = "#0000FF"
C_3C = "#ADD8E6"
C_PI = "#FF8C00"
C_ADIA = "#800080"
W_THIN = 2.6
W_THICK = 5.4


def split(pairs):
    xs, ys = [], []
    for p in pairs:
        if p is None:
            xs.append(NAN); ys.append(NAN)
        else:
            xs.append(p[0]); ys.append(p[1])
    return xs, ys


def fmt(v):
    s = ("%.1f" % v)
    return s[:-2] if s.endswith(".0") else s


def make_fig(yr, yticks, ylabel):
    p = figure(width=2560, height=767, x_range=Range1d(21, 24), y_range=Range1d(*yr),
               output_backend="svg", toolbar_location=None,
               min_border_left=257, min_border_right=511, min_border_top=40, min_border_bottom=108)
    p.xgrid.visible = False
    p.ygrid.visible = False
    p.outline_line_color = None
    xa = p.xaxis[0]
    xa.ticker = FixedTicker(ticks=X_TICKS)
    xa.major_label_overrides = dict(zip(X_TICKS, X_TICK_LABELS))
    xa.axis_label = "UTC hours on 20240718"
    xa.axis_label_text_font = FONT
    xa.axis_label_text_font_size = "32px"
    xa.axis_label_text_font_style = "normal"
    xa.axis_label_text_color = DARK
    xa.axis_label_standoff = 26
    xa.major_label_text_font = FONT
    xa.major_label_text_font_size = "25px"
    xa.major_label_text_color = DARK
    xa.major_label_standoff = 15
    xa.axis_line_color = DARK
    xa.axis_line_width = 1.4
    xa.major_tick_line_color = DARK
    xa.major_tick_line_width = 1.4
    xa.major_tick_in = 20
    xa.major_tick_out = 0
    xa.minor_tick_line_color = None

    ya = p.yaxis[0]
    ya.ticker = FixedTicker(ticks=yticks)
    ya.major_label_overrides = {t: fmt(t) for t in yticks}
    ya.axis_label = ylabel
    ya.axis_label_text_font = FONT
    ya.axis_label_text_font_size = "32px"
    ya.axis_label_text_font_style = "normal"
    ya.axis_label_text_color = AX_BLUE
    ya.axis_label_standoff = 18
    ya.major_label_text_font = FONT
    ya.major_label_text_font_size = "25px"
    ya.major_label_text_color = AX_BLUE
    ya.major_label_standoff = 20
    ya.axis_line_color = AX_BLUE
    ya.axis_line_width = 1.4
    ya.major_tick_line_color = AX_BLUE
    ya.major_tick_line_width = 1.4
    ya.major_tick_in = 18
    ya.major_tick_out = 0
    ya.minor_tick_line_color = None
    return p


def add_bands(p, intervals, color):
    for a, b in intervals:
        p.add_layout(BoxAnnotation(left=a, right=b, fill_color=color, fill_alpha=0.5,
                                   line_color=None, line_alpha=0))


def add_right_line(p):
    p.add_layout(Span(location=24, dimension="height", line_color=AX_BLUE, line_width=1.4))


def add_legend(p, items, x, y, row_h=40, standoff=18):
    leg = Legend(items=[LegendItem(label=l, renderers=[r]) for l, r in items],
                 location=(x, y), orientation="vertical", glyph_width=159, glyph_height=row_h,
                 label_height=row_h, label_standoff=standoff, spacing=0, padding=0, margin=0,
                 border_line_alpha=0, background_fill_alpha=0,
                 label_text_font=FONT, label_text_font_size="26.5px", label_text_color="#000000")
    p.add_layout(leg)


def lines(p, data, color, width, alpha=1.0):
    x, y = split(data)
    return p.line(x, y, line_color=color, line_width=width, line_alpha=alpha, line_join="round")


# Panel 1
p1 = make_fig((25.55, 97.6), [30, 40, 50, 60, 70, 80, 90], "Zenith BT 23 GHz, K")
r1a = lines(p1, BT23_2C, C_2C, W_THIN)
r1b = lines(p1, BT23_3C, C_3C, W_THIN)
r1c = lines(p1, BT23_PI, C_PI, W_THICK)
add_bands(p1, WET_WINDOW, "#D2B48C")
add_right_line(p1)
add_legend(p1, [("MWR 2C (tan = wet window)", r1a), ("MWR 3C", r1b), ("Phy-Iter", r1c)], 171, 452)

# Panel 2
p2 = make_fig((12.41, 105.07), [20, 30, 40, 50, 60, 70, 80, 90, 100], "Zenith BT 31 GHz, K")
r2a = lines(p2, BT31_2C, C_2C, W_THIN)
r2b = lines(p2, BT31_3C, C_3C, W_THIN)
r2c = lines(p2, BT31_PI, C_PI, W_THICK)
add_bands(p2, RAIN_FLAG, "#D2B48C")
add_right_line(p2)
add_legend(p2, [("MWR2C", r2a), ("MWR 3C (tan = rain flag)", r2b), ("Phy-Iter", r2c)], 192, 452)

# Panel 3
p3 = make_fig((1.1467, 3.073), [1.2, 1.4, 1.6, 1.8, 2, 2.2, 2.4, 2.6, 2.8, 3], "Precip. Water Vapor, mm")
r3a = lines(p3, PWV_2C, C_2C, W_THIN)
r3b = lines(p3, PWV_3C, C_3C, W_THIN)
r3c = lines(p3, PWV_PI, C_PI, W_THICK)
r3d = p3.line([], [], line_alpha=0)
r3e = p3.line([], [], line_alpha=0)
add_bands(p3, PWV_2C_ONLY, "#D2B48C")
add_bands(p3, PWV_3C_ONLY, "#A52A2A")
add_right_line(p3)
add_legend(p3, [("MWR 2C PWV", r3a), ("MWR 3C PWV", r3b), ("Phy-Iter PWV", r3d),
                ("(tan = MWR 2C only)", r3c), ("(brown = MWR 3C only)", r3e)], 53, 366, row_h=39, standoff=17)

# Panel 4
p4 = make_fig((0.5774, 4.5), [1, 1.5, 2, 2.5, 3, 3.5, 4, 4.5], "log10 Liquid Water Path, log10(g/m\u00b2 )")
for t, lo, hi in LWP_ADIA_BANDS:
    p4.varea(x=t, y1=lo, y2=hi, fill_color=C_ADIA, fill_alpha=0.2)
for t, lo, hi in LWP_PI_BANDS:
    p4.varea(x=t, y1=lo, y2=hi, fill_color=C_PI, fill_alpha=0.22)
r4a = lines(p4, LWP_2C, C_2C, W_THIN)
r4b = lines(p4, LWP_3C, C_3C, W_THIN)
r4c = lines(p4, LWP_PI, C_PI, W_THICK)
r4d = lines(p4, LWP_ADIA, C_ADIA, 2.6)
add_bands(p4, LWP_GREY, "#D3D3D3")
add_bands(p4, LWP_CYAN, "#00FFFF")
add_right_line(p4)
add_legend(p4, [("MWR 2C LWP", r4a), ("MWR 3C LWP", r4b), ("Phy-Iter LWP", r4c), ("Adiabatic LWP", r4d)],
           1313, 25, row_h=39)

# Panel 5
p5 = make_fig((-0.51, 11.51), [0, 2, 4, 6, 8, 10], "MWR Phy Iter DQ Flag")
for flag, minutes in DQ_FLAGS.items():
    xs = [21 + (m + 0.4) / 60.0 for m in minutes]
    p5.scatter(xs, [flag] * len(xs), size=5.5, fill_color=C_PI, line_color=C_PI, marker="circle")
add_right_line(p5)

layout = column(Spacer(height=162, width=10), p1, p2, p3, p4, p5)
open("out.html", "w").write(file_html(layout, INLINE))
